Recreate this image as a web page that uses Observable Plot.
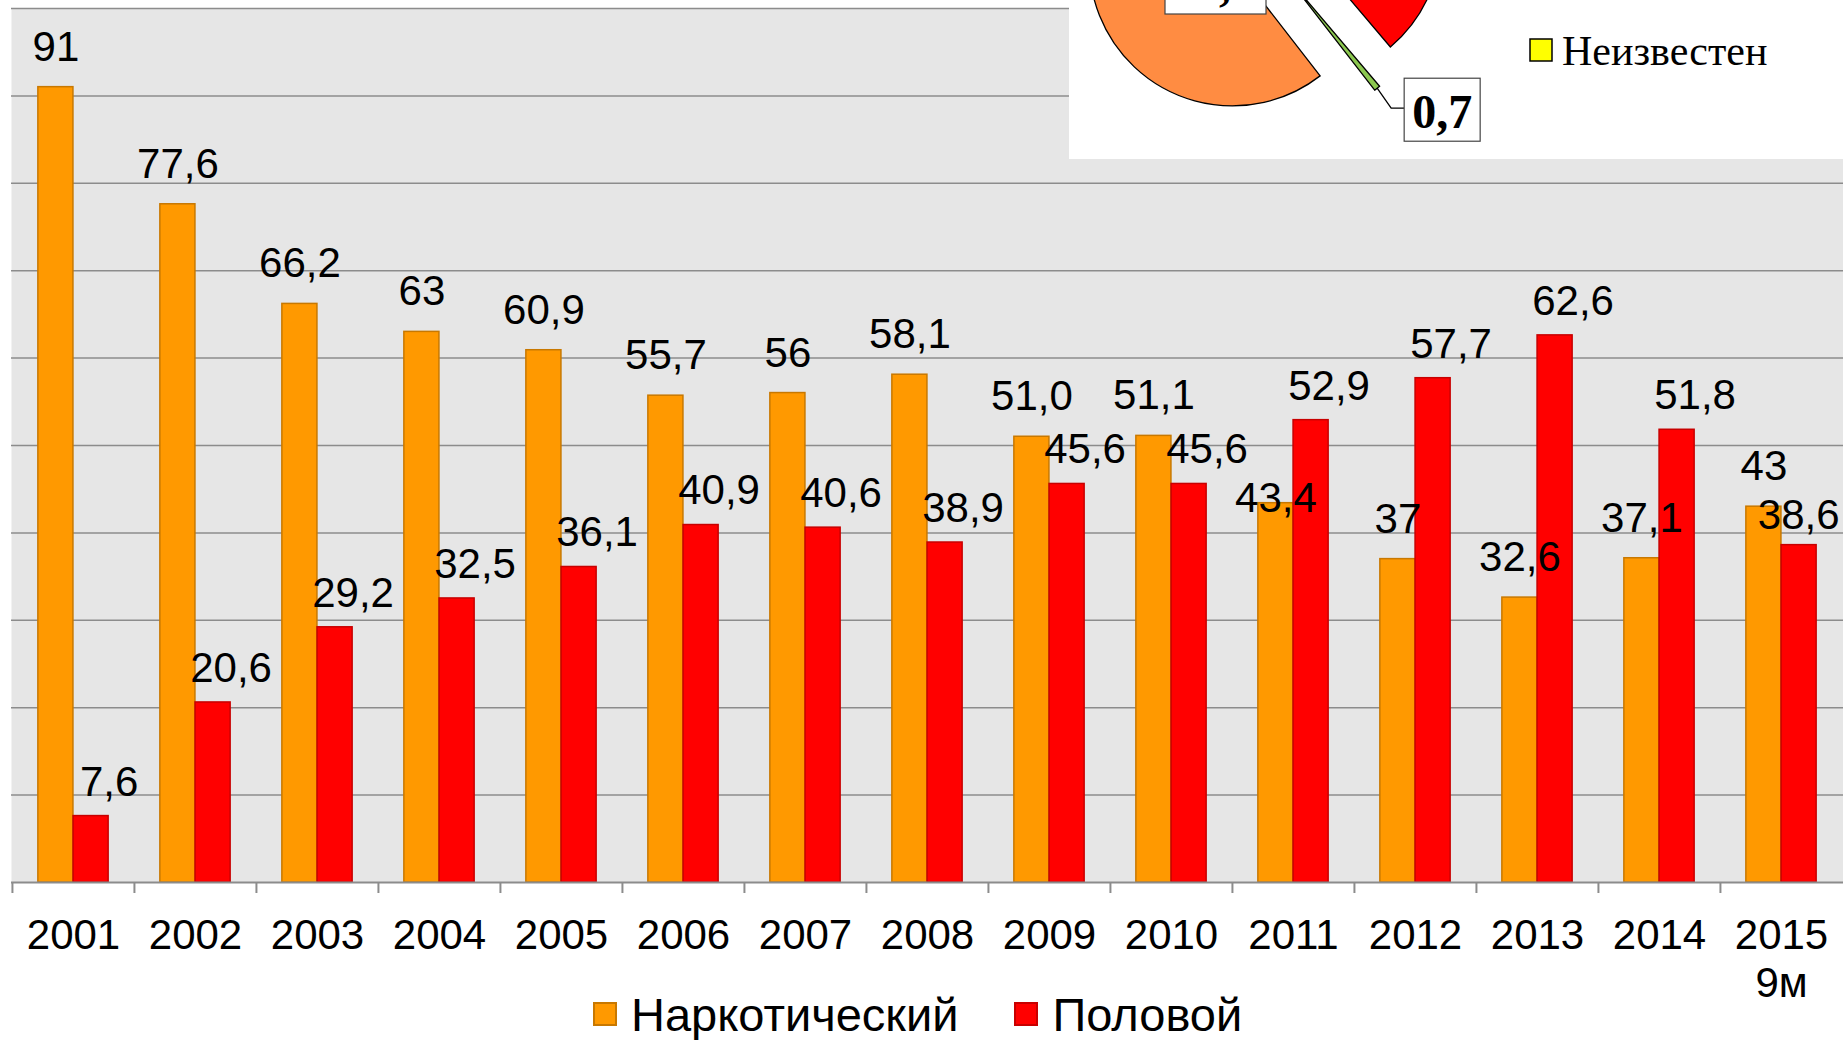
<!DOCTYPE html>
<html>
<head>
<meta charset="utf-8">
<script src="https://cdn.jsdelivr.net/npm/d3@7"></script>
<script src="https://cdn.jsdelivr.net/npm/@observablehq/plot@0.6"></script>
<style>
  body { margin: 0; background: #fff; }
  #wrap { position: relative; width: 1843px; height: 1040px; overflow: hidden; font-family: "Liberation Sans", Arial, sans-serif; }
  #legend { position: absolute; left: 593px; top: 990px; height: 48px; display: flex; align-items: center; font-size: 47px; color: #000; white-space: nowrap; }
  #legend .item { display: flex; align-items: center; }
  #legend .sw { width: 24px; height: 24px; box-sizing: border-box; margin-right: 14px; border: 2px solid; }
  #pie { position: absolute; left: 0; top: 0; }
</style>
</head>
<body>
<div id="wrap">
  <div id="chart"></div>
  <div id="legend"></div>
  <svg id="pie" width="1843" height="160"></svg>
</div>
<script>
// ---- data ----
const years = ["2001","2002","2003","2004","2005","2006","2007","2008","2009","2010","2011","2012","2013","2014","2015\n9м"];
const seriesNames = ["Наркотический", "Половой"];
const narcotic = [91, 77.6, 66.2, 63, 60.9, 55.7, 56, 58.1, 51.0, 51.1, 43.4, 37, 32.6, 37.1, 43];
const narcoticLabels = ["91","77,6","66,2","63","60,9","55,7","56","58,1","51,0","51,1","43,4","37","32,6","37,1","43"];
const sexual = [7.6, 20.6, 29.2, 32.5, 36.1, 40.9, 40.6, 38.9, 45.6, 45.6, 52.9, 57.7, 62.6, 51.8, 38.6];
const sexualLabels = ["7,6","20,6","29,2","32,5","36,1","40,9","40,6","38,9","45,6","45,6","52,9","57,7","62,6","51,8","38,6"];
const yTicks = [10, 20, 30, 40, 50, 60, 70, 80, 90, 100];

// inset pie (only its lower part is visible)
const pieNames = ["Половой", "Прочие", "Наркотический", "Неизвестен"];
const pieShares = [38.8, 0.7, 59.0, 1.5];
const pieLabels = ["", "0,7", "59,0", ""];
const pieColors = ["#FF0000", "#8CC850", "#FF8C42", "#FFFF00"];

// ---- layout ----
const W = 1843, H = 1000, mL = 11, mR = 0, mT = 8, mB = 118;
const bw = (W - mL - mR) / years.length;
const barW = 35.2;
const inset = (bw - barW) / 2;
const pxPerUnit = (H - mT - mB) / 100;
const tickLen = 11 / pxPerUnit;
const colors = ["#FF9900", "#FF0000"];
const strokes = ["#C87800", "#C80000"];

const rows = years.flatMap((yr, i) => [
  {year: yr, series: seriesNames[0], value: narcotic[i], label: narcoticLabels[i]},
  {year: yr, series: seriesNames[1], value: sexual[i], label: sexualLabels[i]}
]);
const narcRows = rows.filter(d => d.series === seriesNames[0]);
const sexRows = rows.filter(d => d.series === seriesNames[1]);
const sexRowsInner = sexRows.slice(0, -1);
const sexRowsLast = sexRows.slice(-1);

const chart = Plot.plot({
  width: W, height: H,
  marginLeft: mL, marginRight: mR, marginTop: mT, marginBottom: mB,
  style: {background: "white", fontFamily: "'Liberation Sans', Arial, sans-serif", overflow: "visible"},
  x: {domain: years, padding: 0, axis: null},
  y: {domain: [0, 100], axis: null},
  marks: [
    Plot.frame({fill: "#E6E6E6", stroke: "none"}),
    Plot.gridY(yTicks, {stroke: "#8C8C8C", strokeOpacity: 1, strokeWidth: 1.5}),
    Plot.barY(narcRows, {x: "year", y: "value", fill: colors[0], stroke: strokes[0], strokeWidth: 1.5,
      insetLeft: inset, insetRight: inset, dx: -barW / 2}),
    Plot.barY(sexRows, {x: "year", y: "value", fill: colors[1], stroke: strokes[1], strokeWidth: 1.5,
      insetLeft: inset, insetRight: inset, dx: barW / 2}),
    Plot.ruleY([0], {stroke: "#8C8C8C", strokeWidth: 2}),
    Plot.ruleX(years, {x: d => d, dx: -bw / 2, y1: 0, y2: -tickLen, stroke: "#8C8C8C", strokeWidth: 2}),
    Plot.axisX({tickSize: 0, tickPadding: 32, fontSize: 42, lineHeight: 1.15, fill: "black", label: null}),
    Plot.text(narcRows, {x: "year", y: "value", text: "label", dx: -barW / 2, dy: -40, fontSize: 42, fill: "black", ariaDescription: "value-label"}),
    Plot.text(sexRowsInner, {x: "year", y: "value", text: "label", dx: barW / 2 + 18, dy: -34, fontSize: 42, fill: "black", ariaDescription: "value-label"}),
    // last label sits against the right edge of the chart
    Plot.text(sexRowsLast, {x: "year", y: "value", text: "label", textAnchor: "end", dx: bw / 2 - 3, dy: -34, fontSize: 42, fill: "black", ariaDescription: "value-label"})
  ]
});
document.getElementById("chart").appendChild(chart);

// ---- nudge value labels that collide: the lower one moves down ----
{
  const labels = Array.from(chart.querySelectorAll("g[aria-description='value-label'] text"));
  for (let pass = 0; pass < 3; pass++) {
    for (let a = 0; a < labels.length; a++) {
      for (let b = a + 1; b < labels.length; b++) {
        const ra = labels[a].getBoundingClientRect(), rb = labels[b].getBoundingClientRect();
        const ox = Math.min(ra.right, rb.right) - Math.max(ra.left, rb.left);
        const oy = Math.min(ra.bottom, rb.bottom) - Math.max(ra.top, rb.top);
        if (ox > 0 && oy > 0) {
          const [lower, ru, rl] = ra.top <= rb.top ? [labels[b], ra, rb] : [labels[a], rb, ra];
          const shift = ru.bottom - rl.top + 2;
          const t = lower.getAttribute("transform") || "";
          lower.setAttribute("transform", `${t} translate(0,${shift})`);
        }
      }
    }
  }
}

// ---- legend ----
const legend = d3.select("#legend");
seriesNames.forEach((name, i) => {
  const item = legend.append("div").attr("class", "item").style("margin-right", i === 0 ? "56px" : "0");
  item.append("div").attr("class", "sw").style("background", colors[i]).style("border-color", strokes[i]);
  item.append("span").text(name);
});

// ---- inset pie ----
const pie = d3.select("#pie");
pie.append("rect").attr("x", 1069).attr("y", 0).attr("width", W - 1069).attr("height", 159).attr("fill", "white");
const C0 = [1265, -50], R = 143, explode = 35;
const arcs = d3.pie().sort(null).value(d => d)(pieShares);
const arcGen = d3.arc().innerRadius(0).outerRadius(R);
const centers = arcs.map(a => {
  const mid = (a.startAngle + a.endAngle) / 2;
  return [C0[0] + explode * Math.sin(mid), C0[1] - explode * Math.cos(mid), mid];
});
arcs.forEach((a, i) => {
  pie.append("path").attr("d", arcGen(a))
    .attr("transform", `translate(${centers[i][0]},${centers[i][1]})`)
    .attr("fill", pieColors[i]).attr("stroke", "#000").attr("stroke-width", 1.3);
});
// label for small slice with leader line
{
  const [cx, cy, mid] = centers[1];
  const tx = cx + R * Math.sin(mid), ty = cy - R * Math.cos(mid);
  pie.append("polyline").attr("points", `${tx},${ty} ${tx + 14},${ty + 20} ${tx + 27},${ty + 20}`)
    .attr("fill", "none").attr("stroke", "#000").attr("stroke-width", 1.3);
  pie.append("rect").attr("x", tx + 27).attr("y", ty - 10).attr("width", 76).attr("height", 63)
    .attr("fill", "white").attr("stroke", "#444").attr("stroke-width", 1.2);
  pie.append("text").attr("x", tx + 65).attr("y", ty + 40).attr("text-anchor", "middle")
    .attr("font-family", "'Liberation Serif', 'Times New Roman', serif").attr("font-weight", "bold")
    .attr("font-size", 48).text(pieLabels[1]);
}
// label for large slice (mostly cut off at the top, as in the original)
pie.append("rect").attr("x", 1165).attr("y", -50).attr("width", 101).attr("height", 64)
  .attr("fill", "white").attr("stroke", "#444").attr("stroke-width", 1.2);
pie.append("text").attr("x", 1213).attr("y", 0).attr("text-anchor", "middle")
  .attr("font-family", "'Liberation Serif', 'Times New Roman', serif").attr("font-weight", "bold")
  .attr("font-size", 48).text(pieLabels[2]);
// pie legend entry
pie.append("rect").attr("x", 1530).attr("y", 39).attr("width", 22).attr("height", 22)
  .attr("fill", pieColors[3]).attr("stroke", "#000").attr("stroke-width", 1.5);
pie.append("text").attr("x", 1562).attr("y", 65)
  .attr("font-family", "'Liberation Serif', 'Times New Roman', serif").attr("font-size", 42)
  .text(pieNames[3]);
</script>
</body>
</html>
